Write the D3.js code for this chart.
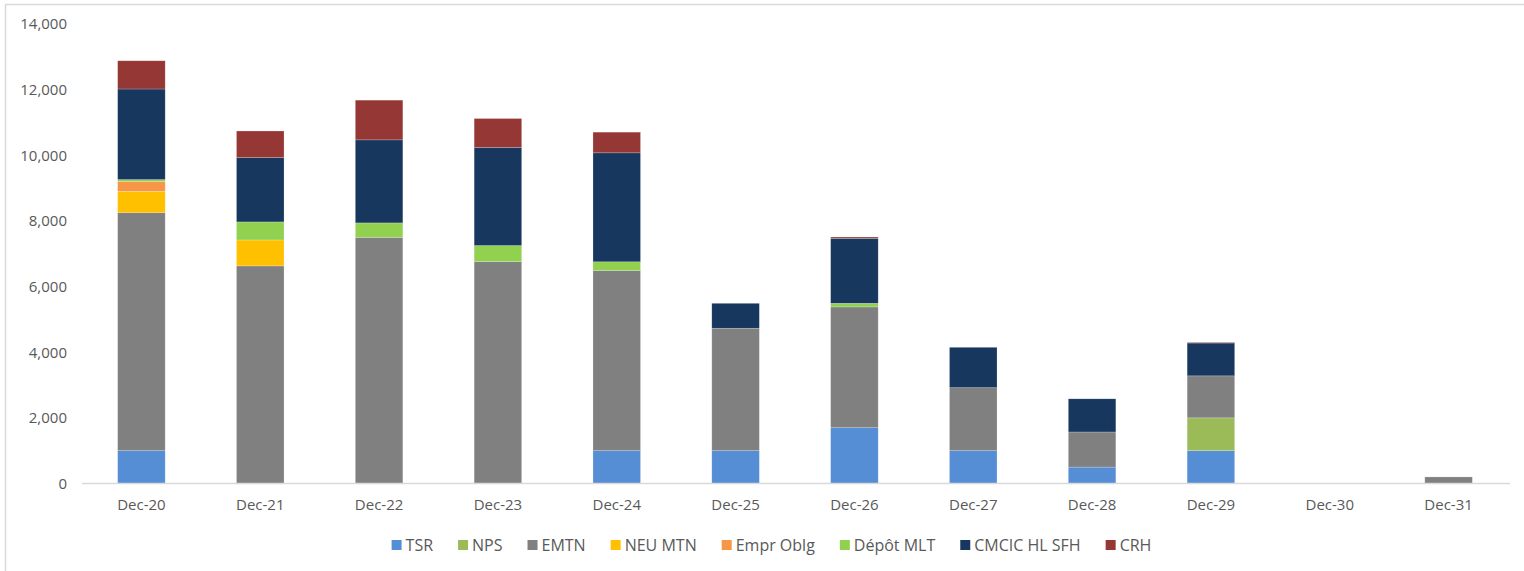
<!DOCTYPE html>
<html>
<head>
<meta charset="utf-8">
<script src="https://cdn.jsdelivr.net/npm/d3@7"></script>
<style>
  body { margin: 0; background: #fff; }
  svg { display: block; font-family: "Open Sans", "Liberation Sans", sans-serif; }
</style>
</head>
<body>
<div id="chart"></div>
<script>
const categories = ["Dec-20", "Dec-21", "Dec-22", "Dec-23", "Dec-24", "Dec-25", "Dec-26", "Dec-27", "Dec-28", "Dec-29", "Dec-30", "Dec-31"];
const seriesNames = ["TSR", "NPS", "EMTN", "NEU MTN", "Empr Oblg", "Dépôt MLT", "CMCIC HL SFH", "CRH"];
const colors = ["#558ed5", "#9bbb59", "#808080", "#ffc000", "#f79646", "#92d050", "#17375e", "#953735"];

// values per series, one per category
const tsr      = [1000, 0, 0, 0, 1000, 1000, 1700, 1000, 500, 1000, 0, 0];
const nps      = [0, 0, 0, 0, 0, 0, 0, 0, 0, 1000, 0, 0];
const emtn     = [7250, 6630, 7500, 6760, 5490, 3730, 3680, 1920, 1070, 1280, 0, 200];
const neuMtn   = [650, 790, 0, 0, 0, 0, 0, 0, 0, 0, 0, 0];
const emprOblg = [300, 0, 0, 0, 0, 0, 0, 0, 0, 0, 0, 0];
const depotMlt = [60, 550, 440, 490, 265, 0, 110, 0, 0, 0, 0, 0];
const cmcic    = [2760, 1960, 2530, 2990, 3320, 760, 1980, 1230, 1010, 1000, 0, 0];
const crh      = [860, 810, 1210, 880, 630, 0, 40, 0, 0, 20, 0, 0];

const yTicks = [0, 2000, 4000, 6000, 8000, 10000, 12000, 14000];

const width = 1524, height = 571;
const margin = { top: 24, right: 16, bottom: 87.5, left: 82 };
const fontSize = "15px";

const allSeries = [tsr, nps, emtn, neuMtn, emprOblg, depotMlt, cmcic, crh];
const rows = categories.map((c, i) => {
    const row = { cat: c };
    seriesNames.forEach((s, j) => row[s] = allSeries[j][i]);
    return row;
});

const stacked = d3.stack().keys(seriesNames)(rows);

const svg = d3.select("#chart").append("svg")
    .attr("width", width)
    .attr("height", height);

// chart border (cropped on right and bottom)
svg.append("rect")
    .attr("x", 5.5).attr("y", 4.5)
    .attr("width", width + 20).attr("height", height + 20)
    .attr("fill", "none")
    .attr("stroke", "#d9d9d9")
    .attr("stroke-width", 1.5);

const x = d3.scaleBand()
    .domain(categories)
    .range([margin.left, 1508])
    .paddingInner(0.6)
    .paddingOuter(0.3);

const y = d3.scaleLinear()
    .domain([0, 14000])
    .range([height - margin.bottom, margin.top]);

const color = d3.scaleOrdinal().domain(seriesNames).range(colors);

// bars
svg.append("g")
    .selectAll("g")
    .data(stacked)
    .join("g")
    .attr("fill", d => color(d.key))
    .selectAll("rect")
    .data(d => d.filter(p => p[1] - p[0] > 0))
    .join("rect")
    .attr("x", d => x(d.data.cat))
    .attr("width", x.bandwidth())
    .attr("y", d => y(d[1]))
    .attr("height", d => y(d[0]) - y(d[1]))
    .attr("stroke", "#ffffff")
    .attr("stroke-opacity", 0.35)
    .attr("stroke-width", 0.6);

// x axis
const xAxis = svg.append("g")
    .attr("transform", `translate(0,${y(0)})`)
    .call(d3.axisBottom(x).tickSize(0).tickPadding(16));
xAxis.select(".domain").attr("stroke", "#d9d9d9").attr("stroke-width", 1.3)
    .attr("d", `M${margin.left},0H1510`);
xAxis.selectAll("text")
    .attr("fill", "#595959")
    .style("font-size", fontSize)
    .style("font-family", "'Open Sans', sans-serif");

// y axis
const yAxis = svg.append("g")
    .attr("transform", `translate(67,0)`)
    .call(d3.axisLeft(y).tickValues(yTicks).tickFormat(d3.format(",")).tickSize(0).tickPadding(0));
yAxis.select(".domain").remove();
yAxis.selectAll("text")
    .attr("fill", "#595959")
    .style("font-size", fontSize)
    .style("font-family", "'Open Sans', sans-serif");

// legend
const legend = svg.append("g");
const items = legend.selectAll("g")
    .data(seriesNames)
    .join("g");
items.append("rect")
    .attr("width", 10).attr("height", 10)
    .attr("y", -5)
    .attr("fill", d => color(d));
items.append("text")
    .attr("x", 14)
    .attr("dy", "0.35em")
    .attr("fill", "#595959")
    .style("font-size", "16px")
    .text(d => d);

const gap = 25;
let cursor = 0;
items.each(function () {
    const g = d3.select(this);
    const w = 14 + g.select("text").node().getComputedTextLength();
    g.attr("transform", `translate(${cursor},0)`);
    cursor += w + gap;
});
const totalW = cursor - gap;
legend.attr("transform", `translate(${771.5 - totalW / 2},545)`);
</script>
</body>
</html>
